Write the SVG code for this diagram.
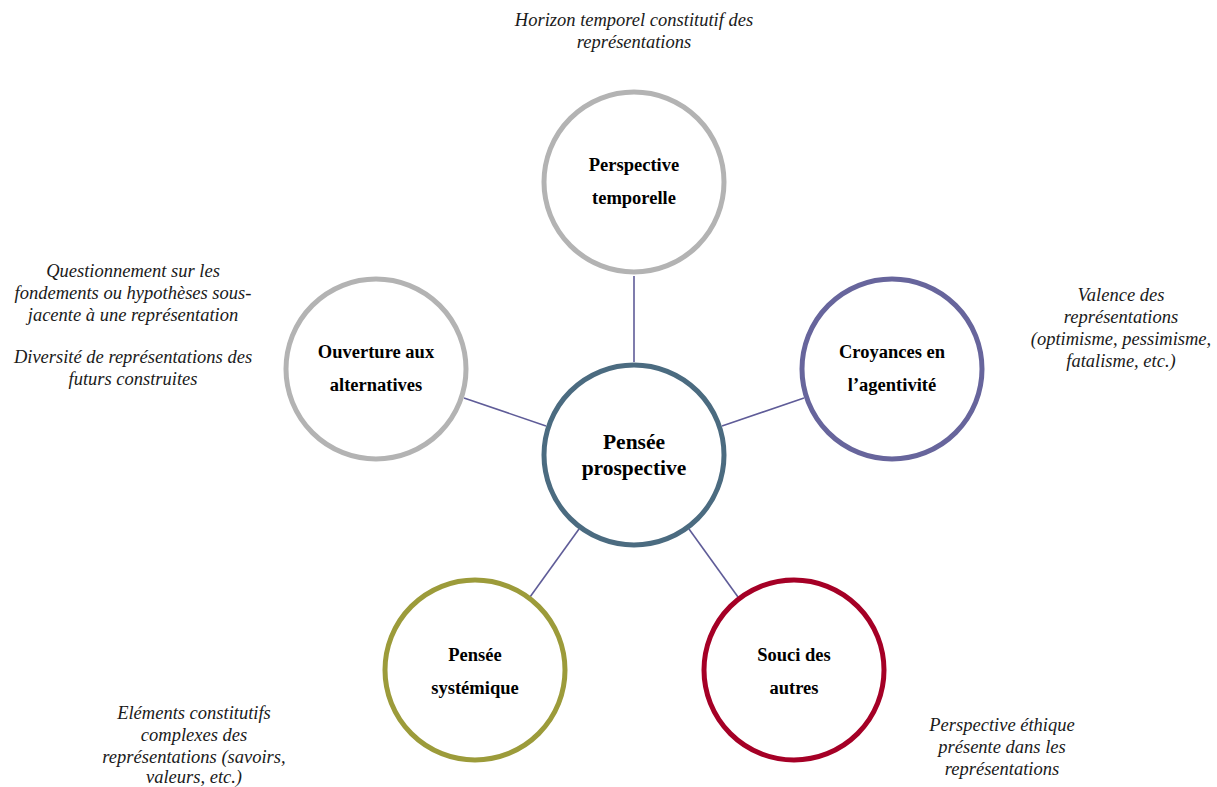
<svg xmlns="http://www.w3.org/2000/svg" width="1217" height="787" viewBox="0 0 1217 787">
<style>
.node{fill:#ffffff;stroke-width:5}
.lbl{font-family:"Liberation Serif","Times New Roman",serif;font-weight:bold;font-size:18.5px;fill:#000;text-anchor:middle}
.clbl{font-family:"Liberation Serif","Times New Roman",serif;font-weight:bold;font-size:21.5px;fill:#000;text-anchor:middle}
.note{font-family:"Liberation Serif","Times New Roman",serif;font-style:italic;font-size:18.5px;fill:#1a1a1a;text-anchor:middle}
.conn{stroke:#5f5c98;stroke-width:1.6;fill:none}
</style>
<rect width="1217" height="787" fill="#ffffff"/>
<g id="connectors">
<line class="conn" x1="634" y1="276" x2="634" y2="362"/>
<line class="conn" x1="464" y1="398" x2="546" y2="426"/>
<line class="conn" x1="722" y1="426" x2="804" y2="398"/>
<line class="conn" x1="579" y1="529" x2="530" y2="597"/>
<line class="conn" x1="689" y1="529" x2="738" y2="597"/>
</g>
<g id="node-center">
<circle class="node" cx="634" cy="455" r="90" stroke="#4b6b80"/>
<text class="clbl" x="634" y="449">Pensée</text>
<text class="clbl" x="634" y="475">prospective</text>
</g>
<g id="node-temporelle">
<circle class="node" cx="634" cy="182" r="90" stroke="#b3b3b3"/>
<text class="lbl" x="634" y="171">Perspective</text>
<text class="lbl" x="634" y="204">temporelle</text>
</g>
<g id="node-alternatives">
<circle class="node" cx="376" cy="369" r="90" stroke="#b3b3b3"/>
<text class="lbl" x="376" y="358">Ouverture aux</text>
<text class="lbl" x="376" y="391">alternatives</text>
</g>
<g id="node-agentivite">
<circle class="node" cx="892" cy="369" r="90" stroke="#67659c"/>
<text class="lbl" x="892" y="358">Croyances en</text>
<text class="lbl" x="892" y="391">l’agentivité</text>
</g>
<g id="node-systemique">
<circle class="node" cx="475" cy="670" r="90" stroke="#9c9b3a"/>
<text class="lbl" x="475" y="661">Pensée</text>
<text class="lbl" x="475" y="694">systémique</text>
</g>
<g id="node-autres">
<circle class="node" cx="794" cy="670" r="90" stroke="#a50026"/>
<text class="lbl" x="794" y="661">Souci des</text>
<text class="lbl" x="794" y="694">autres</text>
</g>
<g id="notes">
<text class="note" x="634" y="26">Horizon temporel constitutif des</text>
<text class="note" x="634" y="48">représentations</text>
<text class="note" x="133" y="277">Questionnement sur les</text>
<text class="note" x="133" y="299">fondements ou hypothèses sous-</text>
<text class="note" x="133" y="321">jacente à une représentation</text>
<text class="note" x="133" y="363">Diversité de représentations des</text>
<text class="note" x="133" y="385">futurs construites</text>
<text class="note" x="1121" y="301">Valence des</text>
<text class="note" x="1121" y="323">représentations</text>
<text class="note" x="1121" y="345">(optimisme, pessimisme,</text>
<text class="note" x="1121" y="367">fatalisme, etc.)</text>
<text class="note" x="194" y="719">Eléments constitutifs</text>
<text class="note" x="194" y="741">complexes des</text>
<text class="note" x="194" y="763">représentations (savoirs,</text>
<text class="note" x="194" y="783">valeurs, etc.)</text>
<text class="note" x="1002" y="731">Perspective éthique</text>
<text class="note" x="1002" y="753">présente dans les</text>
<text class="note" x="1002" y="775">représentations</text>
</g>
</svg>
